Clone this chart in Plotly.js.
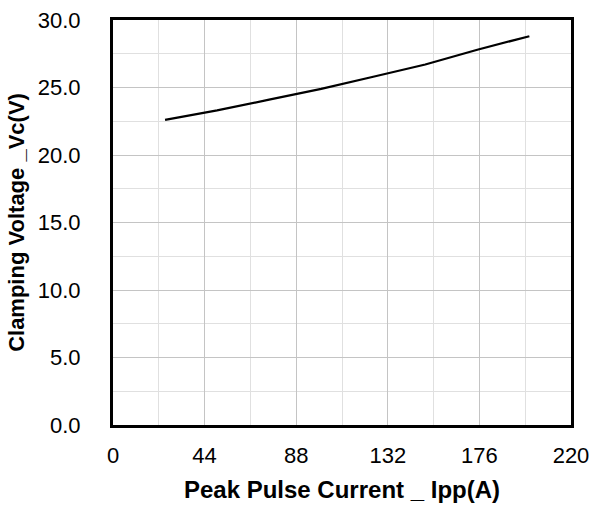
<!DOCTYPE html>
<html>
<head>
<meta charset="utf-8">
<script src="https://cdn.plot.ly/plotly-3.0.1.min.js"></script>
<style>html,body{margin:0;padding:0;background:#fff;}#chart{width:589px;height:508px;}</style>
</head>
<body>
<div id="chart"></div>
<script>
const currentA = [25, 50, 75, 100, 125, 150, 175, 200];
const voltageV = [22.6, 23.3, 24.1, 24.9, 25.8, 26.7, 27.8, 28.8];
const xTicks = [0, 44, 88, 132, 176, 220];
const yTicks = [0, 5, 10, 15, 20, 25, 30];

const fam = 'Liberation Sans, Arial, sans-serif';
const tickFont = {family: fam, size: 22, color: '#000'};

Plotly.newPlot('chart', [{
  x: currentA, y: voltageV, type: 'scatter', mode: 'lines',
  line: {color: '#000', width: 2.2}, hoverinfo: 'skip'
}], {
  width: 589, height: 508,
  margin: {l: 113, r: 18, t: 20, b: 83},
  paper_bgcolor: '#fff', plot_bgcolor: '#fff',
  showlegend: false,
  font: tickFont,
  xaxis: {
    range: [0, 220], tickmode: 'array', tickvals: xTicks,
    ticktext: xTicks.map(String),
    ticklabeloverflow: 'allow',
    showline: true, linecolor: '#000', linewidth: 3, mirror: true,
    gridcolor: '#c4c4c4', gridwidth: 1, zeroline: false,
    ticks: 'outside', ticklen: 9, tickcolor: 'rgba(0,0,0,0)',
    minor: {dtick: 22, tick0: 0, showgrid: true, gridcolor: '#e0e0e0', gridwidth: 1},
    tickfont: tickFont,
    title: {text: 'Peak Pulse Current _ Ipp(A)', font: {family: fam, size: 24, color: '#000', weight: 'bold'}, standoff: 14}
  },
  yaxis: {
    range: [0, 30], tickmode: 'array', tickvals: yTicks,
    ticktext: yTicks.map(v => v.toFixed(1)),
    ticklabeloverflow: 'allow',
    showline: true, linecolor: '#000', linewidth: 3, mirror: true,
    gridcolor: '#c4c4c4', gridwidth: 1, zeroline: false,
    ticks: 'outside', ticklen: 25, tickcolor: 'rgba(0,0,0,0)',
    minor: {dtick: 2.5, tick0: 0, showgrid: true, gridcolor: '#e0e0e0', gridwidth: 1},
    tickfont: tickFont,
    title: {text: 'Clamping Voltage _Vc(V)', font: {family: fam, size: 22, color: '#000', weight: 'bold'}, standoff: 8}
  }
}, {staticPlot: true, displayModeBar: false});
</script>
</body>
</html>
